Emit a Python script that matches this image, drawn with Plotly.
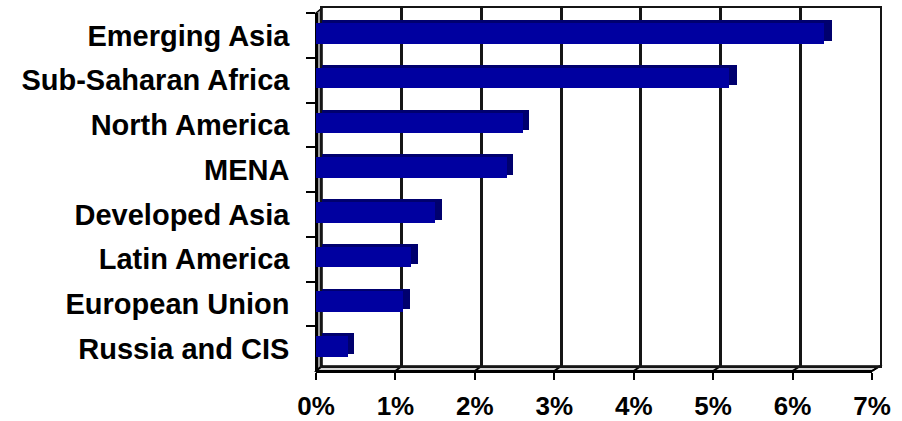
import plotly.graph_objects as go

# Regions, top to bottom
regions = [
    "Emerging Asia",
    "Sub-Saharan Africa",
    "North America",
    "MENA",
    "Developed Asia",
    "Latin America",
    "European Union",
    "Russia and CIS",
]
growth_pct = [6.4, 5.2, 2.6, 2.4, 1.5, 1.2, 1.1, 0.4]
tick_vals = [0, 1, 2, 3, 4, 5, 6, 7]
tick_text = ["0%", "1%", "2%", "3%", "4%", "5%", "6%", "7%"]

W, H = 902, 421

# pixel frame of the 3-D box: back wall and front plane
BACK_L, BACK_R, BACK_T, BACK_B = 322, 880, 8, 366
FRONT_L, FRONT_R, FRONT_T, FRONT_B = 316, 872, 13, 371
X_MAX = 7


def fx(p):
    return p / W


def fy(p):
    return 1 - p / H


FONT = "Arial, Liberation Sans, sans-serif"
FACE = "#0000A0"
SIDE = "#00006E"
GRID = "#151515"

fig = go.Figure()

# darker copy on the back-wall axes: shows as the top face and end cap
fig.add_trace(go.Bar(
    y=regions, x=growth_pct, orientation="h", width=0.46,
    marker=dict(color=SIDE, line=dict(width=0)),
    xaxis="x", yaxis="y", hoverinfo="skip", showlegend=False,
))
# invisible points so the front category axis carries the labels
fig.add_trace(go.Scatter(
    y=regions, x=[0] * len(regions), xaxis="x2", yaxis="y2",
    mode="markers", marker=dict(opacity=0), hoverinfo="skip", showlegend=False,
))
# front face of the bars
fig.add_trace(go.Bar(
    y=regions, x=growth_pct, orientation="h", width=0.46,
    marker=dict(color=FACE, line=dict(width=0)),
    xaxis="x2", yaxis="y3", showlegend=False,
))

cat_range = [len(regions) - 0.5, -0.5]
xfont = dict(family=FONT, size=26, color="black", weight="bold")
yfont = dict(family=FONT, size=29, color="black", weight="bold")

fig.update_layout(
    template="none",
    width=W, height=H,
    margin=dict(l=0, r=0, t=0, b=0, autoexpand=False),
    paper_bgcolor="white", plot_bgcolor="rgba(0,0,0,0)",
    bargap=0,
    # back wall with gridlines
    xaxis=dict(domain=[fx(BACK_L), fx(BACK_R)], range=[0, X_MAX], dtick=1, tick0=0,
               showgrid=True, gridcolor=GRID, gridwidth=2.5,
               showticklabels=False, ticks="", zeroline=False,
               showline=True, linecolor=GRID, linewidth=2, mirror=True,
               anchor="y", automargin=False, fixedrange=True),
    yaxis=dict(domain=[fy(BACK_B), fy(BACK_T)], type="category",
               categoryarray=regions, range=cat_range,
               showgrid=False, showticklabels=False, ticks="",
               showline=True, linecolor=GRID, linewidth=1.5, mirror=True,
               anchor="x", automargin=False, fixedrange=True),
    # front value axis with percent labels
    xaxis2=dict(domain=[fx(FRONT_L), fx(FRONT_R)], range=[0, X_MAX],
                tickvals=tick_vals, ticktext=tick_text,
                ticks="outside", ticklen=7, tickwidth=1.5, tickcolor="black",
                ticklabelstandoff=4,
                showgrid=False, zeroline=False,
                showline=True, linecolor="black", linewidth=2.5,
                tickfont=xfont, automargin=False,
                anchor="free", position=fy(FRONT_B), fixedrange=True),
    # front category axis with region labels
    yaxis2=dict(domain=[fy(FRONT_B), fy(FRONT_T)], type="category",
                categoryarray=regions, range=cat_range,
                anchor="free", position=fx(FRONT_L),
                ticks="outside", ticklen=9, tickwidth=1.5, tickcolor="black",
                tickson="boundaries", ticklabelstandoff=20,
                showgrid=False, zeroline=False, showline=True,
                linecolor="black", linewidth=2.5, tickfont=yfont,
                automargin=False, fixedrange=True),
    # category axis carrying the front bars
    yaxis3=dict(domain=[fy(368.4), fy(10.6)], type="category",
                categoryarray=regions, range=cat_range,
                anchor="x2", visible=False,
                automargin=False, fixedrange=True),
)

# left side wall and floor of the 3-D box
fig.add_shape(type="path", xref="paper", yref="paper", layer="below",
              path=f"M {fx(FRONT_L)} {fy(FRONT_T)} L {fx(BACK_L)} {fy(BACK_T)} "
                   f"L {fx(BACK_L)} {fy(BACK_B)} L {fx(FRONT_L)} {fy(FRONT_B)} Z",
              fillcolor="#9a9a9a", line=dict(color="black", width=1.5))
fig.add_shape(type="path", xref="paper", yref="paper", layer="below",
              path=f"M {fx(FRONT_L)} {fy(FRONT_B)} L {fx(BACK_L)} {fy(BACK_B)} "
                   f"L {fx(BACK_R)} {fy(BACK_B)} L {fx(FRONT_R)} {fy(FRONT_B)} Z",
              fillcolor="#d4d4d4", line=dict(color="black", width=1.5))

# gridlines continue across the floor to the front ticks
for v in tick_vals:
    xb = BACK_L + v / X_MAX * (BACK_R - BACK_L)
    xf = FRONT_L + v / X_MAX * (FRONT_R - FRONT_L)
    fig.add_shape(type="line", xref="paper", yref="paper", layer="below",
                  x0=fx(xb), y0=fy(BACK_B), x1=fx(xf), y1=fy(FRONT_B),
                  line=dict(color="black", width=2))

fig.write_html("out.html")
